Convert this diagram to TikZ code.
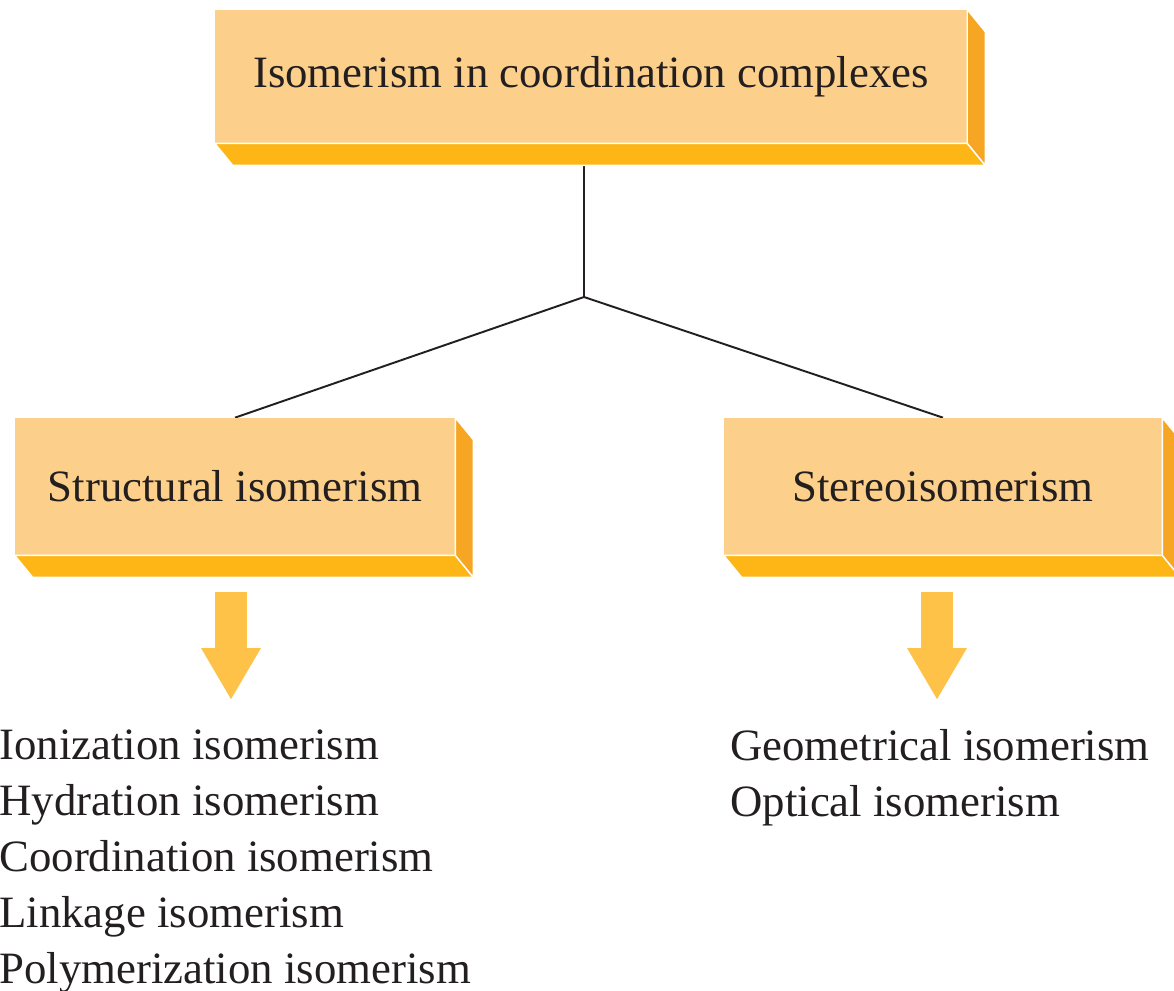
\documentclass[tikz,border=0pt]{standalone}
\usepackage{fontspec}
\setmainfont{Liberation Serif}
\usetikzlibrary{arrows.meta,calc,backgrounds}
\definecolor{cFront} {RGB}{252,208,138}
\definecolor{cBottom}{RGB}{253,182, 22}
\definecolor{cSide}  {RGB}{246,166, 35}
\definecolor{cArrow} {RGB}{255,194, 72}
\definecolor{cText}  {RGB}{ 35, 31, 32}
\tikzset{
  box/.style  = {fill=cFront, inner sep=0pt, text=cText,
                 font=\fontsize{25.5}{30}\selectfont},
  list/.style = {anchor=north west, inner sep=0pt, align=left, text=cText,
                 font=\fontsize{25.5}{31.9}\selectfont},
  link/.style = {draw=cText, line width=1.1pt},
  bigA/.style = {draw=cArrow, line width=0.64cm,
                 -{Triangle[length=1.04cm 0 0, width=1.12cm 0 0]}},
  face/.style = {draw=white, line width=0.8pt},
}
% bottom and side faces of a slab
\newcommand{\slab}[1]{%
  \filldraw[face, fill=cBottom] (#1.south west) -- (#1.south east)
    -- ++(18,-22) -- ($(#1.south west)+(18,-22)$) -- cycle;
  \filldraw[face, fill=cSide] (#1.north east) -- ++(18,-22)
    -- ($(#1.south east)+(18,-22)$) -- (#1.south east) -- cycle;
}

\begin{document}
\begin{tikzpicture}[x=0.02cm, y=0.02cm]
\useasboundingbox (0,0) rectangle (1174,-991);

%% boxes
\node[box, minimum width=15.04cm, minimum height=2.66cm] (top) at (591,-76.5)
  {Isomerism in coordination complexes};
\node[box, minimum width=8.8cm, minimum height=2.74cm] (struct) at (235,-486.5)
  {Structural isomerism};
\node[box, minimum width=8.76cm, minimum height=2.74cm] (stereo) at (943,-486.5)
  {Stereoisomerism};
\slab{top}
\slab{struct}
\slab{stereo}

%% lists
\node[list] (lstA) at (-1,-729)
  {Ionization isomerism\\ Hydration isomerism\\ Coordination isomerism\\
   Linkage isomerism\\ Polymerization isomerism};
\node[list] (lstB) at (730,-729)
  {Geometrical isomerism\\ Optical isomerism};

%% tree lines
\coordinate (fork) at (584,-297);
\begin{scope}[on background layer]
  \draw[link] (top.south -| fork) -- (fork) -- (struct.north);
  \draw[link] (fork) -- (stereo.north);
\end{scope}

%% arrows
\draw[bigA, shorten <=0.74cm, shorten >=0.58cm] ($(struct.south)+(-4,0)$)
  -- ($(struct.south |- lstA.north)+(-4,0)$);
\draw[bigA, shorten <=0.74cm, shorten >=0.58cm] ($(stereo.south)+(-6,0)$)
  -- ($(stereo.south |- lstB.north)+(-6,0)$);

\end{tikzpicture}
\end{document}
